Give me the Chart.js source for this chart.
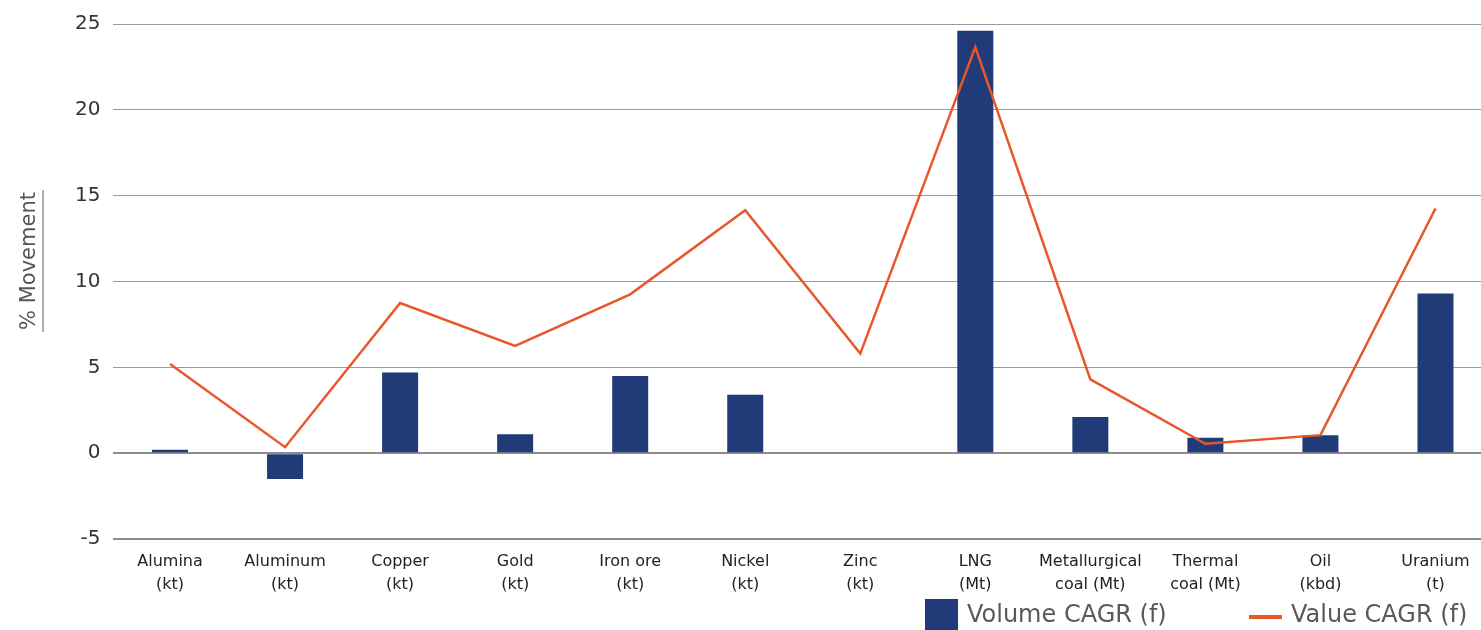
<!DOCTYPE html>
<html>
<head>
<meta charset="utf-8">
<script src="https://cdn.jsdelivr.net/npm/chart.js@4"></script>
<style>
  html, body { margin: 0; padding: 0; background: #fff; overflow: hidden; }
  #wrap { width: 1493px; height: 630px; }
</style>
</head>
<body>
<div id="wrap"><canvas id="cagrChart"></canvas></div>
<script>
const commodities = [
    ['Alumina', '(kt)'], ['Aluminum', '(kt)'], ['Copper', '(kt)'], ['Gold', '(kt)'],
    ['Iron ore', '(kt)'], ['Nickel', '(kt)'], ['Zinc', '(kt)'], ['LNG', '(Mt)'],
    ['Metallurgical', 'coal (Mt)'], ['Thermal', 'coal (Mt)'], ['Oil', '(kbd)'], ['Uranium', '(t)']
];
const volumeCagr = [0.2, -1.5, 4.7, 1.1, 4.5, 3.4, 0, 24.6, 2.1, 0.9, 1.05, 9.3];
const valueCagr = [5.2, 0.35, 8.75, 6.25, 9.25, 14.15, 5.8, 23.65, 4.3, 0.55, 1.05, 14.25];
const yTicks = [-5, 0, 5, 10, 15, 20, 25];

const NAVY = '#213a78';
const ORANGE = '#e8562a';
const FONT = '"DejaVu Sans", sans-serif';

// axis title with its underline, plus the legend along the bottom
const decorations = {
    id: 'decorations',
    afterDraw(chart) {
        const ctx = chart.ctx;
        ctx.save();
        ctx.translate(30, 261);
        ctx.rotate(-Math.PI / 2);
        ctx.font = '21px ' + FONT;
        ctx.fillStyle = '#555';
        ctx.textAlign = 'center';
        ctx.textBaseline = 'middle';
        ctx.fillText('% Movement', 0, 0);
        const w = ctx.measureText('% Movement').width;
        ctx.strokeStyle = '#777';
        ctx.lineWidth = 1.2;
        ctx.beginPath();
        ctx.moveTo(-w / 2 - 2, 13);
        ctx.lineTo(w / 2 + 2, 13);
        ctx.stroke();
        ctx.restore();

        const ds = chart.data.datasets;
        const bars = ds.find(d => d.type !== 'line');
        const line = ds.find(d => d.type === 'line');
        ctx.save();
        ctx.font = '24px ' + FONT;
        ctx.textBaseline = 'middle';
        ctx.fillStyle = bars.backgroundColor;
        ctx.fillRect(925, 599, 33, 32);
        ctx.fillStyle = '#595959';
        ctx.fillText(bars.label, 967, 616);
        ctx.strokeStyle = line.borderColor;
        ctx.lineWidth = 4;
        ctx.beginPath();
        ctx.moveTo(1249, 617);
        ctx.lineTo(1282, 617);
        ctx.stroke();
        ctx.fillText(line.label, 1291, 616);
        ctx.restore();
    }
};

new Chart(document.getElementById('cagrChart'), {
    type: 'bar',
    data: {
        labels: commodities,
        datasets: [{
            label: 'Volume CAGR (f)',
            data: volumeCagr,
            backgroundColor: NAVY,
            categoryPercentage: 1,
            barPercentage: 0.313,
            order: 1
        }, {
            type: 'line',
            label: 'Value CAGR (f)',
            data: valueCagr,
            borderColor: ORANGE,
            backgroundColor: ORANGE,
            borderWidth: 2.5,
            pointRadius: 0,
            tension: 0,
            order: 0
        }]
    },
    options: {
        responsive: true,
        maintainAspectRatio: false,
        animation: false,
        layout: { padding: { top: 17, right: 0, bottom: 0, left: 0 } },
        plugins: {
            legend: { display: false },
            tooltip: { enabled: false }
        },
        scales: {
            x: {
                grid: { display: false },
                border: { display: false },
                ticks: {
                    color: '#222',
                    font: { family: FONT, size: 16, lineHeight: 1.4 },
                    padding: 4,
                    maxRotation: 0,
                    autoSkip: false
                },
                afterFit(scale) { scale.height = 91; }
            },
            y: {
                min: -5,
                max: 25,
                border: { display: false },
                afterBuildTicks(scale) { scale.ticks = yTicks.map(v => ({ value: v })); },
                grid: {
                    drawTicks: false,
                    color: c => (c.tick && (c.tick.value === 0 || c.tick.value === -5)) ? '#8c8c8c' : '#9a9a9a',
                    lineWidth: c => (c.tick && (c.tick.value === 0 || c.tick.value === -5)) ? 2 : 1
                },
                ticks: {
                    color: '#333',
                    font: { family: FONT, size: 20 },
                    padding: 12
                },
                afterFit(scale) { scale.width = 112.5; }
            }
        }
    },
    plugins: [decorations]
});
</script>
</body>
</html>
